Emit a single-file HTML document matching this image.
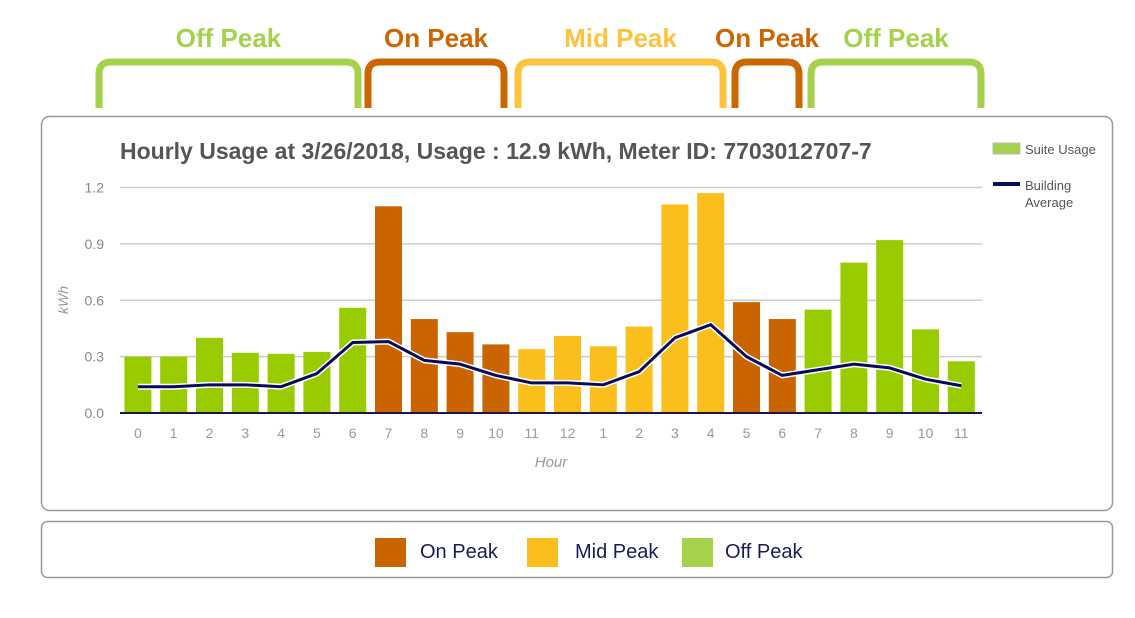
<!DOCTYPE html>
<html><head><meta charset="utf-8"><style>
html,body{margin:0;padding:0;background:#fff;width:1135px;height:618px;overflow:hidden;font-family:"Liberation Sans","DejaVu Sans",sans-serif}
svg{display:block}
</style></head><body>
<svg width="1135" height="618" viewBox="0 0 1135 618">
<g id="brackets"></g>
<rect x="41.5" y="116.5" width="1071" height="394" rx="8" fill="#fff" stroke="#999" stroke-width="1.5"/>
<text x="120" y="159" font-size="23" font-weight="bold" fill="#555">Hourly Usage at 3/26/2018, Usage : 12.9 kWh, Meter ID: 7703012707-7</text>
<g id="grid"></g>
<g id="bars"></g>
<g id="line"></g>
<g id="xt"></g>
<text x="0" y="0" transform="translate(68,300) rotate(-90)" text-anchor="middle" font-size="14" font-style="italic" fill="#999">kWh</text>
<text x="551" y="467" text-anchor="middle" font-size="15" font-style="italic" fill="#999">Hour</text>
<g><rect x="993" y="143" width="27" height="11" fill="#a5d24a" stroke="#bbb"/><text x="1025" y="154" font-size="13" fill="#555">Suite Usage</text></g>
<g><rect x="993" y="182" width="27" height="4" fill="#0a0a5a"/><text x="1025" y="190" font-size="13" fill="#555">Building</text><text x="1025" y="207" font-size="13" fill="#555">Average</text></g>
<rect x="41.5" y="521.5" width="1071" height="56" rx="6" fill="#fff" stroke="#999" stroke-width="1.5"/>
<g><rect x="375" y="538" width="31" height="29" fill="#c96400"/><text x="420" y="558" font-size="20" fill="#1a1a5a">On Peak</text></g>
<g><rect x="527" y="538" width="31" height="29" fill="#fbbf1d"/><text x="575" y="558" font-size="20" fill="#1a1a5a">Mid Peak</text></g>
<g><rect x="682" y="538" width="31" height="29" fill="#a5d24a"/><text x="725" y="558" font-size="20" fill="#1a1a5a">Off Peak</text></g>
</svg>
<script>
const hours=["0","1","2","3","4","5","6","7","8","9","10","11","12","1","2","3","4","5","6","7","8","9","10","11"];
const usage=[0.30,0.30,0.40,0.32,0.315,0.325,0.56,1.10,0.50,0.43,0.365,0.34,0.41,0.355,0.46,1.11,1.17,0.59,0.50,0.55,0.80,0.92,0.445,0.275];
const average=[0.14,0.14,0.15,0.15,0.14,0.21,0.375,0.38,0.28,0.26,0.20,0.16,0.16,0.15,0.22,0.40,0.47,0.30,0.20,0.23,0.26,0.24,0.18,0.145];
const periods=["off","off","off","off","off","off","off","on","on","on","on","mid","mid","mid","mid","mid","mid","on","on","off","off","off","off","off"];
const yTicks=[0,0.3,0.6,0.9,1.2];
const yTickLabels=["0.0","0.3","0.6","0.9","1.2"];
const bracketLabels=["Off Peak","On Peak","Mid Peak","On Peak","Off Peak"];
const bracketPeriods=["off","on","mid","on","off"];
const NS="http://www.w3.org/2000/svg";
const colors={off:"#99cc00",on:"#c96400",mid:"#fbbf1d"};
const bColors={off:"#a5d24a",on:"#cc6600",mid:"#fdc33d"};
const bracketEdges=[[95,362],[364,508],[514,727],[731,803],[807,985]];
const x0=120,slot=35.8,yZero=413,yTop=187.5;
const X=i=>x0+slot*(i+0.5);
const Y=v=>yZero-(v/1.2)*(yZero-yTop);
function mk(t,a,p){const e=document.createElementNS(NS,t);for(const k in a)e.setAttribute(k,a[k]);p.appendChild(e);return e;}
const grid=document.getElementById('grid');
yTicks.forEach((v,i)=>{
 const l=mk('line',{x1:x0,x2:982,y1:Y(v),y2:Y(v),stroke:'#ccc','stroke-width':1.5},grid);
 
 
 const t=mk('text',{x:104,y:Y(v)+5,'text-anchor':'end','font-size':14,fill:'#888'},grid);
 t.textContent=yTickLabels[i];
 
 
});
const bars=document.getElementById('bars');
usage.forEach((v,i)=>{
 const r=mk('rect',{x:X(i)-13.5,y:Y(v),width:27,height:yZero-Y(v),fill:colors[periods[i]]},bars);
 
 
});
mk('line',{x1:x0,x2:982,y1:yZero,y2:yZero,stroke:'#1a1a4a','stroke-width':2},bars);
const pts=average.map((v,i)=>X(i)+','+Y(v)).join(' ');
mk('polyline',{points:pts,fill:'none',stroke:'#fff','stroke-width':6,'stroke-linejoin':'round'},document.getElementById('line'));
const pl=mk('polyline',{points:pts,fill:'none',stroke:'#0a0a5a','stroke-width':3,'stroke-linejoin':'round'},document.getElementById('line'));


const xt=document.getElementById('xt');
hours.forEach((h,i)=>{
 const t=mk('text',{x:X(i),y:438,'text-anchor':'middle','font-size':14,fill:'#999'},xt);
 t.textContent=h;
 
 
});
const br=document.getElementById('brackets');
bracketEdges.forEach((e,k)=>{
 const a=e[0],b=e[1];
 const c=bColors[bracketPeriods[k]];
 const p=mk('path',{d:`M${a+4},108 L${a+4},74 Q${a+4},62 ${a+16},62 L${b-16},62 Q${b-4},62 ${b-4},74 L${b-4},108`,fill:'none',stroke:c,'stroke-width':7},br);
 
 
 const t=mk('text',{x:(a+b)/2,y:47,'text-anchor':'middle','font-size':26,'font-weight':'bold',fill:c},br);
 t.textContent=bracketLabels[k];
 
 
});
</script>
</body></html>
